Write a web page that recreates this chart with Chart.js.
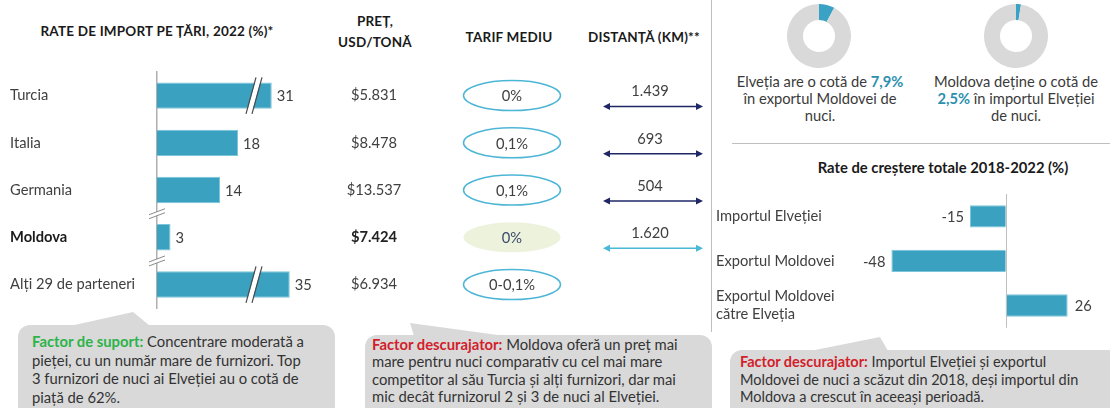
<!DOCTYPE html>
<html lang="ro">
<head>
<meta charset="utf-8">
<script src="https://cdn.jsdelivr.net/npm/chart.js@4/dist/chart.umd.min.js"></script>
<style>
  body { margin: 0; width: 1110px; height: 408px; overflow: hidden; background: #fff;
         font-family: Lato, "Noto Sans", sans-serif; color: #333; position: relative; }
  .abs { position: absolute; white-space: nowrap; }
  .hdr { font-weight: bold; font-size: 13.5px; letter-spacing: 0.2px; color: #1a1a1a; text-align: center; }
  .cap { font-size: 14.7px; line-height: 17px; text-align: center; color: #3a3a3a; width: 220px; }
  .cap b { color: #2b8fae; }
  .box { font-size: 14.8px; color: #333; }
  .green { color: #2db34a; font-weight: bold; }
  .red { color: #d21f2b; font-weight: bold; }
  canvas { position: absolute; }
</style>
</head>
<body>
<svg class="abs" style="left:0;top:0" width="1110" height="408">
  <line x1="711.5" y1="0" x2="711.5" y2="332" stroke="#bfbfbf" stroke-width="1"/>
  <line x1="732" y1="143.5" x2="1110" y2="143.5" stroke="#bfbfbf" stroke-width="1"/>
  <rect x="18" y="325" width="317" height="110" rx="12" fill="#d9d9d9"/>
  <polygon points="70,326 133,312 150,326" fill="#d9d9d9"/>
  <rect x="365" y="335" width="347" height="100" rx="12" fill="#d9d9d9"/>
  <polygon points="410,323 414,336 505,336" fill="#d9d9d9"/>
  <rect x="730" y="350" width="400" height="90" rx="12" fill="#d9d9d9"/>
  <polygon points="810,351 880,337 888,351" fill="#d9d9d9"/>
</svg>

<div class="abs hdr" style="left:0;width:314px;top:23px;line-height:16px">RATE DE IMPORT PE ȚĂRI, 2022 (%)*</div>
<div class="abs hdr" style="left:315px;width:120px;top:11px;line-height:21px">PREȚ,<br>USD/TONĂ</div>
<div class="abs hdr" style="left:449px;width:120px;top:29px;line-height:16px">TARIF MEDIU</div>
<div class="abs hdr" style="left:569px;width:150px;top:29px;line-height:16px">DISTANȚĂ (KM)**</div>

<div class="abs cap" style="left:710px;top:73px">Elveția are o cotă de <b>7,9%</b><br>în exportul Moldovei de<br>nuci.</div>
<div class="abs cap" style="left:906px;top:73px">Moldova deține o cotă de<br><b>2,5%</b> în importul Elveției<br>de nuci.</div>

<div class="abs hdr" style="left:793px;width:300px;top:158px;line-height:18px;font-size:14.8px;letter-spacing:0">Rate de creștere totale 2018-2022 (%)</div>

<div class="abs box" style="left:32px;top:332px;line-height:18.7px">
  <span class="green">Factor de suport:</span> Concentrare moderată a<br>pieței, cu un număr mare de furnizori. Top<br>3 furnizori de nuci ai Elveției au o cotă de<br>piață de 62%.
</div>
<div class="abs box" style="left:372px;top:336px;line-height:17.4px">
  <span class="red">Factor descurajator:</span> Moldova oferă un preț mai<br>mare pentru nuci comparativ cu cel mai mare<br>competitor al său Turcia și alți furnizori, dar mai<br>mic decât furnizorul 2 și 3 de nuci al Elveției.
</div>
<div class="abs box" style="left:740px;top:353px;line-height:17.5px;font-size:14.5px">
  <span class="red">Factor descurajator:</span> Importul Elveției și exportul<br>Moldovei de nuci a scăzut din 2018, deși importul din<br>Moldova a crescut în aceeași perioadă.
</div>

<canvas id="importChart" width="712" height="320" style="left:0;top:0"></canvas>
<canvas id="donutExport" width="64" height="64" style="left:787px;top:4px"></canvas>
<canvas id="donutImport" width="64" height="64" style="left:984px;top:4px"></canvas>
<canvas id="growthChart" width="398" height="190" style="left:712px;top:150px"></canvas>

<script>
// Import shares by country, 2022 (%)
const countries = ['Turcia', 'Italia', 'Germania', 'Moldova', 'Alți 29 de parteneri'];
const importShare = [31, 18, 14, 3, 35];
const pricePerTon = [5831, 8478, 13537, 7424, 6934];
const avgTariff = ['0%', '0,1%', '0,1%', '0%', '0-0,1%'];
const distanceKm = [1439, 693, 504, 1620, null];
const moldovaIndex = 3;

// Shares (%)
const swissShareInMdExport = 7.9;
const mdShareInSwissImport = 2.5;

// Growth rates 2018-2022 (%)
const growthCategories = ['Importul Elveției', 'Exportul Moldovei', ['Exportul Moldovei', 'către Elveția']];
const growthValues = [-15, -48, 26];

const BAR = '#3ba1c1';
const TEXT = '#404040';
const FONT = 'Lato, "Noto Sans", sans-serif';
const FS = 14.7;

Chart.defaults.font.family = FONT;
Chart.defaults.animation = false;
Chart.defaults.plugins.legend.display = false;
Chart.defaults.plugins.tooltip.enabled = false;

// axis break: values above breakFrom are pulled back by (breakTo - breakFrom)
const breakFrom = 20;
const breakTo = 25.5;

const LinearScale = Chart.LinearScale || Chart.registry.getScale('linear');
class BrokenLinearScale extends LinearScale {
    getPixelForValue(value) {
        let v = value;
        if (v > breakFrom) v = Math.max(breakFrom, v - (breakTo - breakFrom));
        return super.getPixelForValue(v);
    }
}
BrokenLinearScale.id = 'brokenLinear';
BrokenLinearScale.defaults = LinearScale.defaults;
Chart.register(BrokenLinearScale);

function thousands(n) {
    return String(n).replace(/\B(?=(\d{3})+(?!\d))/g, '.');
}

function slantedBreak(ctx, cx, top, bottom) {
    ctx.save();
    ctx.lineCap = 'butt';
    ctx.strokeStyle = '#fff';
    ctx.lineWidth = 5;
    ctx.beginPath(); ctx.moveTo(cx + 5, top - 5); ctx.lineTo(cx - 5, bottom + 5); ctx.stroke();
    ctx.strokeStyle = '#4a4a4a';
    ctx.lineWidth = 1.2;
    [-3, 3].forEach(d => {
        ctx.beginPath(); ctx.moveTo(cx + 5 + d, top - 5); ctx.lineTo(cx - 5 + d, bottom + 5); ctx.stroke();
    });
    ctx.restore();
}

function axisBreak(ctx, x, y) {
    ctx.save();
    ctx.fillStyle = '#fff';
    ctx.beginPath();
    ctx.moveTo(x - 8, y + 1); ctx.lineTo(x + 8, y - 5); ctx.lineTo(x + 8, y - 1); ctx.lineTo(x - 8, y + 5);
    ctx.closePath(); ctx.fill();
    ctx.strokeStyle = '#8a8a8a';
    ctx.lineWidth = 1;
    [[1, -5], [5, -1]].forEach(([a, b]) => {
        ctx.beginPath(); ctx.moveTo(x - 8, y + a); ctx.lineTo(x + 8, y + b); ctx.stroke();
    });
    ctx.restore();
}

function arrow(ctx, x1, x2, y, color) {
    ctx.save();
    ctx.strokeStyle = color; ctx.fillStyle = color; ctx.lineWidth = 1.5;
    ctx.beginPath(); ctx.moveTo(x1 + 4, y); ctx.lineTo(x2 - 4, y); ctx.stroke();
    ctx.beginPath(); ctx.moveTo(x1, y); ctx.lineTo(x1 + 7, y - 3.5); ctx.lineTo(x1 + 7, y + 3.5); ctx.fill();
    ctx.beginPath(); ctx.moveTo(x2, y); ctx.lineTo(x2 - 7, y - 3.5); ctx.lineTo(x2 - 7, y + 3.5); ctx.fill();
    ctx.restore();
}

const importTable = {
    id: 'importTable',
    afterDatasetsDraw(chart) {
        const ctx = chart.ctx;
        const xs = chart.scales.x, ys = chart.scales.y;
        const meta = chart.getDatasetMeta(0);
        ctx.save();
        ctx.textBaseline = 'middle';

        axisBreak(ctx, chart.chartArea.left, (ys.getPixelForValue(2) + ys.getPixelForValue(3)) / 2);
        axisBreak(ctx, chart.chartArea.left, (ys.getPixelForValue(3) + ys.getPixelForValue(4)) / 2);

        meta.data.forEach((bar, i) => {
            const bold = i === moldovaIndex;
            const y = bar.y;
            if (importShare[i] > breakFrom) {
                slantedBreak(ctx, xs.getPixelForValue(breakFrom) + 7, y - bar.height / 2, y + bar.height / 2);
            }
            ctx.fillStyle = TEXT;
            ctx.font = FS + 'px ' + FONT;
            ctx.textAlign = 'left';
            ctx.fillText(importShare[i], bar.x + 5, y + 1);

            ctx.textAlign = 'center';
            ctx.font = (bold ? 'bold ' : '') + FS + 'px ' + FONT;
            ctx.fillStyle = bold ? '#222' : TEXT;
            ctx.fillText('$' + thousands(pricePerTon[i]), 374, y);

            ctx.beginPath();
            ctx.ellipse(512, y, 48.5, 15, 0, 0, Math.PI * 2);
            if (bold) {
                ctx.fillStyle = '#edf2dc'; ctx.fill();
            } else {
                ctx.strokeStyle = '#4db6d6'; ctx.lineWidth = 1.5; ctx.stroke();
            }
            ctx.font = FS + 'px ' + FONT;
            ctx.fillStyle = bold ? '#3b4a6b' : TEXT;
            ctx.fillText(avgTariff[i], 512, y + 1);

            if (distanceKm[i] !== null) {
                ctx.fillStyle = TEXT;
                ctx.fillText(thousands(distanceKm[i]), 650, y - 4);
                arrow(ctx, 603, 703, y + 11, bold ? '#4bb8d8' : '#1f2766');
            }
        });
        ctx.restore();
    }
};

new Chart(document.getElementById('importChart'), {
    type: 'bar',
    data: {
        labels: countries,
        datasets: [{
            data: importShare,
            backgroundColor: BAR,
            borderColor: '#7cc5db',
            borderWidth: 1,
            borderSkipped: 'start',
            barPercentage: 0.56,
            categoryPercentage: 1
        }]
    },
    options: {
        indexAxis: 'y',
        responsive: false,
        events: [],
        layout: { padding: { left: 10, right: 375, top: 72, bottom: 11 } },
        scales: {
            x: { type: 'brokenLinear', display: false, min: 0, max: 40 },
            y: {
                grid: { display: false },
                border: { display: true, color: '#b0b0b0', width: 1.5 },
                afterFit: s => { s.width = 147; },
                ticks: {
                    crossAlign: 'far',
                    color: ctx => ctx.index === moldovaIndex ? '#1a1a1a' : TEXT,
                    font: ctx => ({ size: FS, weight: ctx.index === moldovaIndex ? 'bold' : 'normal', family: FONT })
                }
            }
        }
    },
    plugins: [importTable]
});

function donut(id, share) {
    new Chart(document.getElementById(id), {
        type: 'doughnut',
        data: {
            labels: ['share', 'rest'],
            datasets: [{
                data: [share, 100 - share],
                backgroundColor: ['#3aa3c5', '#d9d9d9'],
                borderWidth: 0
            }]
        },
        options: { responsive: false, events: [], cutout: '50%' }
    });
}
donut('donutExport', swissShareInMdExport);
donut('donutImport', mdShareInSwissImport);

const growthLabels = {
    id: 'growthLabels',
    afterDatasetsDraw(chart) {
        const ctx = chart.ctx;
        const xs = chart.scales.x;
        const area = chart.chartArea;
        const x0 = Math.round(xs.getPixelForValue(0)) + 0.5;
        ctx.save();
        ctx.strokeStyle = '#bfbfbf'; ctx.lineWidth = 1;
        ctx.beginPath(); ctx.moveTo(x0, area.top); ctx.lineTo(x0, area.bottom); ctx.stroke();
        ctx.font = FS + 'px ' + FONT;
        ctx.fillStyle = TEXT;
        ctx.textBaseline = 'middle';
        chart.getDatasetMeta(0).data.forEach((bar, i) => {
            const v = growthValues[i];
            ctx.textAlign = v < 0 ? 'right' : 'left';
            ctx.fillText(v, v < 0 ? bar.x - 6 : bar.x + 7, bar.y + 1);
        });
        ctx.restore();
    }
};

new Chart(document.getElementById('growthChart'), {
    type: 'bar',
    data: {
        labels: growthCategories,
        datasets: [{
            data: growthValues,
            backgroundColor: BAR,
            borderColor: '#7cc5db',
            borderWidth: 1,
            borderSkipped: 'start',
            barPercentage: 0.5,
            categoryPercentage: 1
        }]
    },
    options: {
        indexAxis: 'y',
        responsive: false,
        events: [],
        layout: { padding: { left: 4, right: 9, top: 44, bottom: 9 } },
        scales: {
            x: { display: false, min: -70, max: 40 },
            y: {
                grid: { display: false },
                border: { display: false },
                afterFit: s => { s.width = 123; },
                ticks: { crossAlign: 'far', color: TEXT, font: { size: FS, family: FONT, lineHeight: 1.25 } }
            }
        }
    },
    plugins: [growthLabels]
});
</script>
</body>
</html>
